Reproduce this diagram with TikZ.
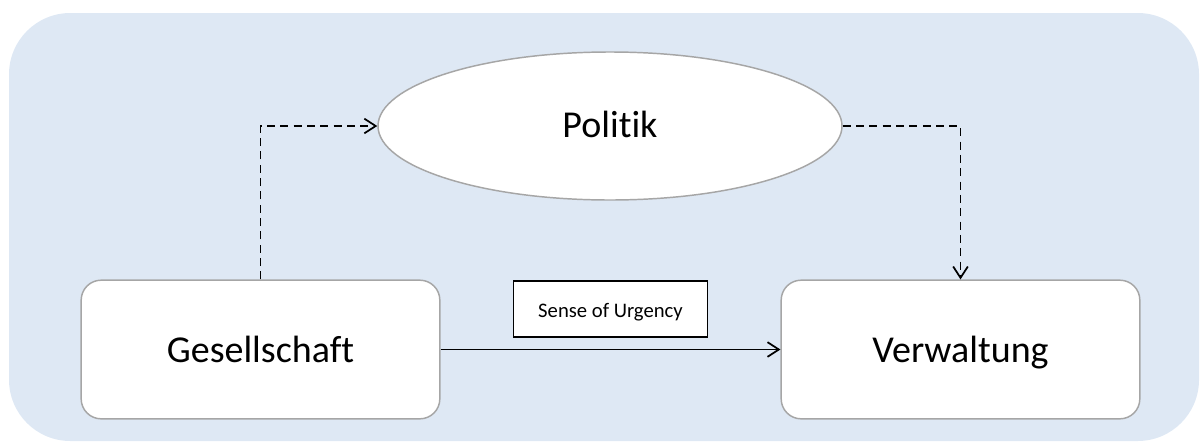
\documentclass[tikz,border=0pt]{standalone}
\usepackage{fontspec}
\setmainfont[Ligatures=NoCommon]{Carlito}
\usetikzlibrary{shapes.geometric,arrows.meta}
\definecolor{bgblue}{HTML}{DEE8F4}
\definecolor{edgegray}{HTML}{A6A6A6}
\begin{document}
\begin{tikzpicture}[x=0.75pt,y=-0.75pt,
  box/.style={draw=edgegray, line width=1.1pt, fill=white, rounded corners=15pt,
    minimum width=269pt, minimum height=104pt, inner sep=0pt,
    text height=20pt, text depth=1.25pt,
    font=\fontsize{28.5}{32}\selectfont},
  ell/.style={ellipse, draw=edgegray, line width=1.1pt, fill=white,
    minimum width=348pt, minimum height=111pt, inner sep=0pt,
    text height=18pt, text depth=1.5pt,
    font=\fontsize{28.5}{32}\selectfont},
  label box/.style={draw=black, line width=0.9pt, fill=white,
    minimum width=145pt, minimum height=42pt, inner sep=0pt,
    text height=13pt, text depth=1pt,
    font=\fontsize{15.5}{18}\selectfont},
  conn/.style={line width=1.4pt, -{Straight Barb[length=8.5pt,width=11pt,line width=1.3pt]}},
  dconn/.style={conn, dash pattern=on 6pt off 4pt}
]
\useasboundingbox (0,0) rectangle (1201,443);
\fill[bgblue, rounded corners=46pt] (9,13) rectangle (1199,441);

\node[box] (g) at (260.5,349.5) {Gesellschaft};
\node[box] (v) at (960.5,349.5) {Verwaltung};
\node[ell] (p) at (610,126) {Politik};
\node[label box] (s) at (610.5,309) {Sense of Urgency};

\draw[conn] (g.east) -- (v.west);
\draw[dconn] (g.north) |- (p.west);
\draw[dconn] (p.east) -| (v.north);
\end{tikzpicture}
\end{document}
